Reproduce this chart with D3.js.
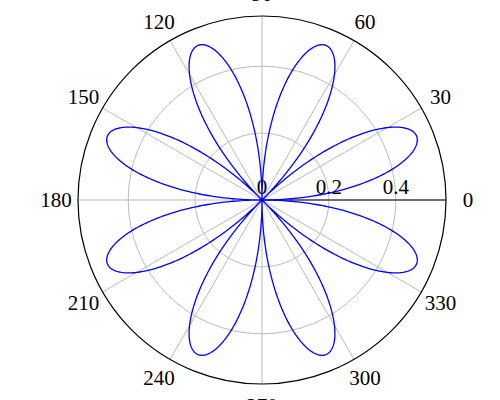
<!DOCTYPE html>
<html><head><meta charset="utf-8">
<script src="https://cdn.jsdelivr.net/npm/d3@7"></script>
<style>body{margin:0;background:#fff}</style>
</head><body>
<div id="chart"></div>
<script>
// rose curve r = amplitude * sin(petalFreq * theta)
var amplitude = 0.5;
var petalFreq = 4;
var angleTicks = [0, 30, 60, 90, 120, 150, 180, 210, 240, 270, 300, 330];
var radialTicks = [0, 0.2, 0.4];
var rMax = 0.55;

var width = 500, height = 400, cx = 262, cy = 200, R = 184;

var svg = d3.select("#chart").append("svg")
  .attr("width", width).attr("height", height)
  .style("font-family", "'Liberation Serif', 'DejaVu Serif', serif");

var g = svg.append("g").attr("transform", "translate(" + cx + "," + cy + ")");

var r = d3.scaleLinear().domain([0, rMax]).range([0, R]);

// grid circles
g.selectAll("circle.grid").data(radialTicks.filter(function(d){ return d > 0; }))
  .enter().append("circle")
    .attr("r", function(d){ return r(d); })
    .attr("fill", "none").attr("stroke", "#bbb").attr("stroke-width", 1);

// spokes
g.selectAll("line.spoke").data(angleTicks)
  .enter().append("line")
    .attr("x1", 0).attr("y1", 0)
    .attr("x2", function(d){ return R * Math.cos(d * Math.PI / 180); })
    .attr("y2", function(d){ return -R * Math.sin(d * Math.PI / 180); })
    .attr("stroke", "#bbb").attr("stroke-width", 1);

// outer circle
g.append("circle").attr("r", R).attr("fill", "none").attr("stroke", "#000").attr("stroke-width", 1.2);

// radial axis
g.append("line").attr("x1", 0).attr("y1", 0).attr("x2", R).attr("y2", 0)
  .attr("stroke", "#000").attr("stroke-width", 1.2);
g.selectAll("text.rt").data(radialTicks).enter().append("text")
  .attr("x", function(d){ return r(d); }).attr("y", -6)
  .attr("text-anchor", "middle").attr("font-size", 21)
  .text(function(d){ return d; });

// angle labels
g.selectAll("text.at").data(angleTicks).enter().append("text")
  .attr("x", function(d){ return (R + 22) * Math.cos(d * Math.PI / 180); })
  .attr("y", function(d){ return -(R + 22) * Math.sin(d * Math.PI / 180); })
  .attr("text-anchor", "middle").attr("dominant-baseline", "central")
  .attr("font-size", 21)
  .text(function(d){ return d; });

// curve
var thetas = d3.range(0, 2 * Math.PI + 0.001, Math.PI / 720);
var line = d3.lineRadial()
  .angle(function(t){ return Math.PI / 2 - t; })
  .radius(function(t){ return r(amplitude * Math.sin(petalFreq * t)); });
g.append("path").datum(thetas)
  .attr("d", line)
  .attr("fill", "none").attr("stroke", "#0000ff").attr("stroke-width", 1.3);
</script>
</body></html>
